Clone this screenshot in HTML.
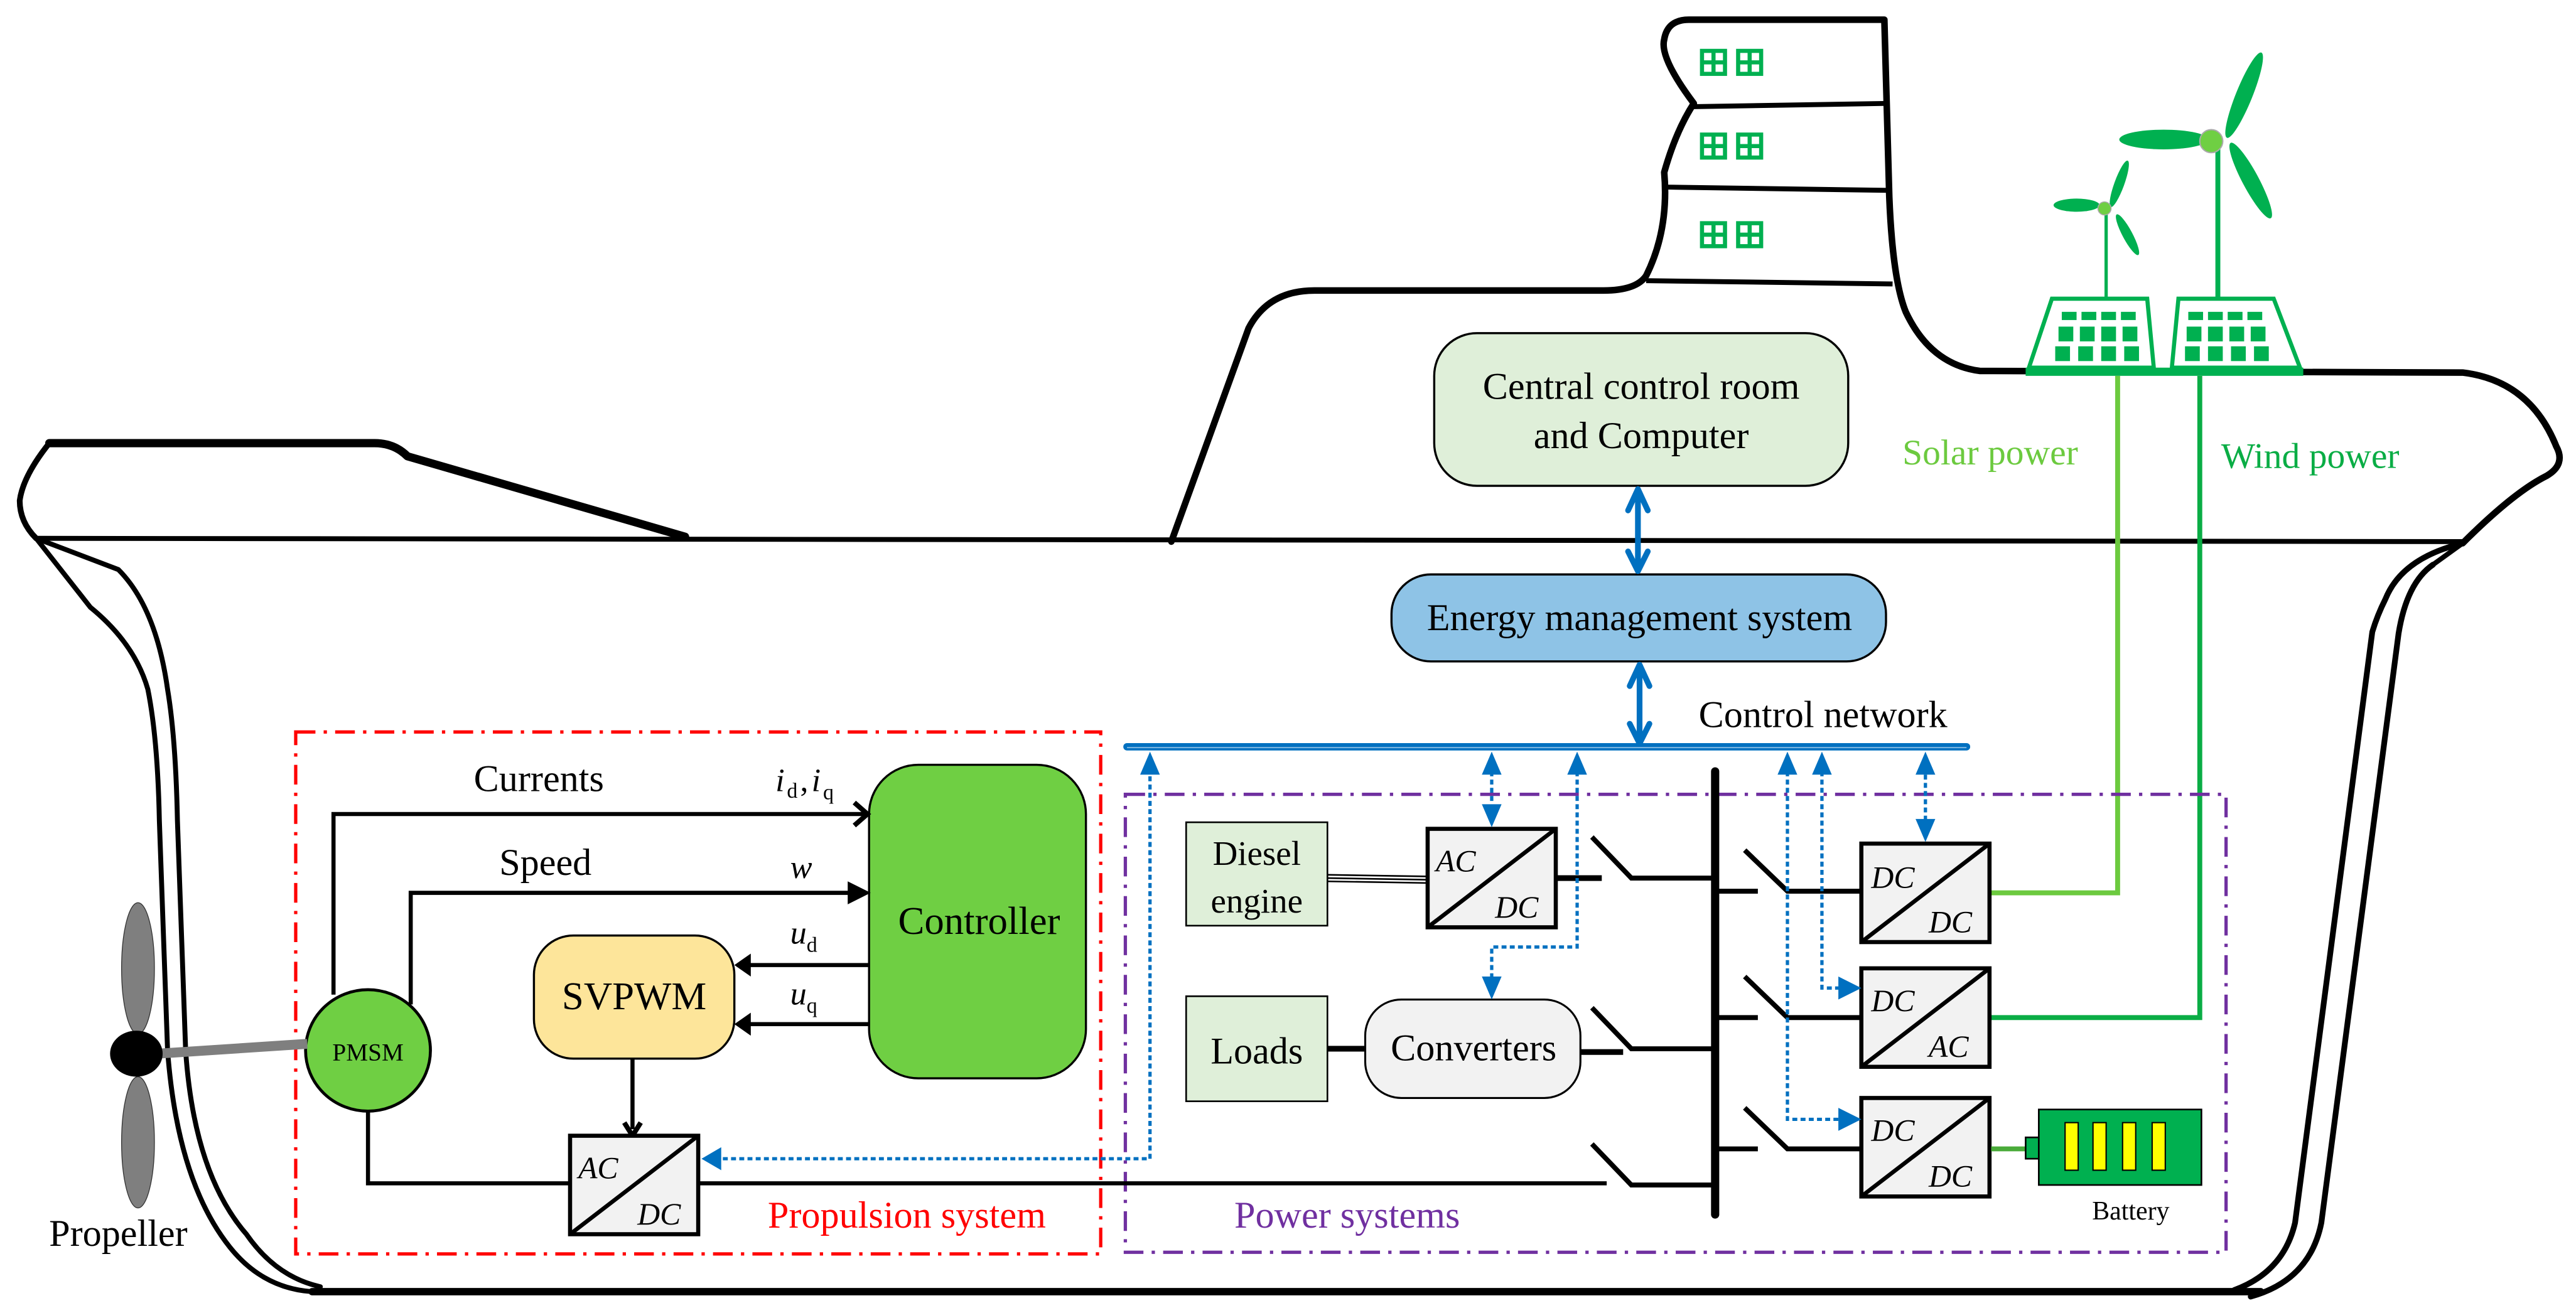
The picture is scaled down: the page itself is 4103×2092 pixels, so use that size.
<!DOCTYPE html>
<html><head><meta charset="utf-8">
<style>
html,body{margin:0;padding:0;background:#fff;}
svg{display:block;}
svg text{font-family:"Liberation Serif","DejaVu Serif",serif;}
</style></head>
<body>
<svg width="4103" height="2092" viewBox="0 0 1568 800" preserveAspectRatio="none" xmlns="http://www.w3.org/2000/svg" font-family="Liberation Serif, DejaVu Serif, serif">
<rect width="1568" height="800" fill="#fff"/>
<g fill="none" stroke="#000" stroke-linecap="round" stroke-linejoin="round">
 <path d="M30,270 L228,270 Q240,270 248,278 L417,327" stroke-width="5"/>
 <path d="M30,270 Q14,290 12,305 Q12,318 22,328" stroke-width="3.5"/>
 <path d="M22,328 L1499,330" stroke-width="3"/>
 <path d="M22,328 L55,370 Q82,392 90,420 Q96,450 97,500 L102,640 Q108,720 140,760 Q160,785 190,787" stroke-width="3"/>
 <path d="M22,328 L72,347 Q95,370 102,420 Q107,450 108,500 L113,640 Q118,715 150,752 Q168,778 195,784" stroke-width="3"/>
 <path d="M190,787 L1376,787" stroke-width="4.5"/>
 <path d="M713,330 L760,200 Q772,177 800,177 L976,177 Q996,177 1002,168 Q1016,140 1013,105 Q1020,80 1031,63 Q1010,35 1013,24 Q1015,12 1028,12 L1147,12 L1150,120 Q1152,170 1160,190 Q1175,222 1205,226 L1499,227 Q1540,232 1556,272 Q1562,283 1550,290 Q1530,300 1499,331" stroke-width="4"/>
 <path d="M1499,331 Q1462,340 1452,365 Q1447,375 1444,385 L1397,745 Q1390,775 1360,786" stroke-width="3.5"/>
 <path d="M1481,344 Q1465,355 1460,386 L1413,745 Q1406,780 1370,790" stroke-width="3.5"/>
 <path d="M1499,331 L1481,344" stroke-width="3"/>
</g>
<g fill="none" stroke="#000" stroke-width="3">
 <path d="M1031,65 L1149,63"/>
 <path d="M1015,114 L1150,116"/>
 <path d="M1002,171 L1152,173"/>
</g>
<g fill="#fff" stroke="#00b050" stroke-width="2.5">
 <g id="w"><rect x="1036" y="31" width="14" height="14"/><line x1="1043" y1="31" x2="1043" y2="45"/><line x1="1036" y1="38" x2="1050" y2="38"/></g>
 <use href="#w" x="22"/><use href="#w" y="51"/><use href="#w" x="22" y="51"/><use href="#w" y="105"/><use href="#w" x="22" y="105"/>
</g>
<g fill="#00b050">
 <line x1="1350" y1="90" x2="1350" y2="184" stroke="#00b050" stroke-width="3"/>
 <ellipse cx="1317" cy="85" rx="27" ry="6"/>
 <ellipse cx="1366" cy="58" rx="5" ry="28" transform="rotate(22 1366 58)"/>
 <ellipse cx="1370" cy="110" rx="5" ry="26" transform="rotate(-28 1370 110)"/>
 <circle cx="1346" cy="86" r="7" fill="#6fcf43" stroke="#aaa" stroke-width="0.8"/>
 <line x1="1282" y1="130" x2="1282" y2="184" stroke="#00b050" stroke-width="2"/>
 <ellipse cx="1264" cy="125" rx="14" ry="4"/>
 <ellipse cx="1290" cy="112" rx="3" ry="15" transform="rotate(20 1290 112)"/>
 <ellipse cx="1295" cy="143" rx="3" ry="14" transform="rotate(-28 1295 143)"/>
 <circle cx="1281" cy="127" r="4" fill="#6fcf43" stroke="#aaa" stroke-width="0.6"/>
</g>
<g stroke="#00b050" stroke-width="2.5" fill="#fff">
 <polygon points="1249,182 1307,182 1311,224 1235,224"/>
 <polygon points="1326,182 1384,182 1400,224 1322,224"/>
</g>
<g fill="#00b050">
 <rect x="1233" y="224" width="169" height="5"/>
 <rect x="1255" y="190" width="9" height="5"/><rect x="1267" y="190" width="9" height="5"/><rect x="1279" y="190" width="9" height="5"/><rect x="1291" y="190" width="9" height="5"/>
 <rect x="1253" y="199" width="9" height="9"/><rect x="1266" y="199" width="9" height="9"/><rect x="1279" y="199" width="9" height="9"/><rect x="1292" y="199" width="9" height="9"/>
 <rect x="1251" y="211" width="9" height="9"/><rect x="1265" y="211" width="9" height="9"/><rect x="1279" y="211" width="9" height="9"/><rect x="1293" y="211" width="9" height="9"/>
 <rect x="1332" y="190" width="9" height="5"/><rect x="1344" y="190" width="9" height="5"/><rect x="1356" y="190" width="9" height="5"/><rect x="1368" y="190" width="9" height="5"/>
 <rect x="1331" y="199" width="9" height="9"/><rect x="1344" y="199" width="9" height="9"/><rect x="1357" y="199" width="9" height="9"/><rect x="1370" y="199" width="9" height="9"/>
 <rect x="1330" y="211" width="9" height="9"/><rect x="1344" y="211" width="9" height="9"/><rect x="1358" y="211" width="9" height="9"/><rect x="1372" y="211" width="9" height="9"/>
</g>
<polyline points="1289,229 1289,544 1212,544" fill="none" stroke="#6cca3f" stroke-width="3"/>
<polyline points="1339,229 1339,620 1212,620" fill="none" stroke="#0aad45" stroke-width="3"/>
<text x="1158" y="283" font-size="22" fill="#6cca3f">Solar power</text>
<text x="1352" y="285" font-size="22" fill="#0aad45">Wind power</text>

<rect x="873" y="203" width="252" height="93" rx="26" fill="#dfefd9" stroke="#000" stroke-width="1.3"/>
<text x="999" y="243" font-size="23" text-anchor="middle">Central control room</text>
<text x="999" y="273" font-size="23" text-anchor="middle">and  Computer</text>
<rect x="847" y="350" width="301" height="53" rx="24" fill="#8ec3e6" stroke="#000" stroke-width="1.3"/>
<text x="998" y="384" font-size="23" text-anchor="middle">Energy management system</text>
<g stroke="#0070c0" fill="none" stroke-linecap="round" stroke-linejoin="round">
 <line x1="997" y1="300" x2="997" y2="346" stroke-width="3.5"/>
 <polyline points="991,311 997,298 1003,311" stroke-width="3.5"/>
 <polyline points="991,336 997,348 1003,336" stroke-width="3.5"/>
 <line x1="998" y1="407" x2="998" y2="451" stroke-width="3.5"/>
 <polyline points="992,418 998,405 1004,418" stroke-width="3.5"/>
 <polyline points="992,441 998,453 1004,441" stroke-width="3.5"/>
</g>
<line x1="686" y1="455" x2="1197" y2="455" stroke="#0070c0" stroke-width="4.5" stroke-linecap="round"/>
<line x1="686" y1="455.5" x2="1197" y2="455.5" stroke="#7fb6e0" stroke-width="0.8"/>
<text x="1034" y="443" font-size="23">Control network</text>

<rect x="180" y="446" width="490" height="318" fill="none" stroke="#ff0000" stroke-width="2" stroke-dasharray="12 5 2 5"/>
<rect x="685" y="484" width="670" height="279" fill="none" stroke="#7030a0" stroke-width="2" stroke-dasharray="12 5 2 5"/>
<text x="552" y="748" font-size="23" fill="#ff0000" text-anchor="middle">Propulsion system</text>
<text x="820" y="748" font-size="23" fill="#7030a0" text-anchor="middle">Power systems</text>

<rect x="529" y="466" width="132" height="191" rx="30" fill="#6fcf43" stroke="#000" stroke-width="1.3"/>
<text x="596" y="569" font-size="24" text-anchor="middle">Controller</text>
<rect x="325" y="570" width="122" height="75" rx="24" fill="#fde59a" stroke="#000" stroke-width="1.3"/>
<text x="386" y="615" font-size="24" text-anchor="middle">SVPWM</text>
<g stroke="#000" stroke-width="2.5" fill="none">
 <polyline points="203,606 203,496 526,496"/>
 <polyline points="250,612 250,544 520,544"/>
 <line x1="529" y1="588" x2="455" y2="588"/>
 <line x1="529" y1="624" x2="455" y2="624"/>
 <line x1="385" y1="645" x2="385" y2="688"/>
 <polyline points="224,676 224,721 347,721"/>
 <line x1="425" y1="721" x2="978" y2="721"/>
 <polyline points="520,489 528,496 520,503" stroke-width="3"/>
 <polyline points="380,684 385,692 390,684" stroke-width="3"/>
</g>
<g fill="#000">
 <polygon points="516,537 530,544 516,551"/>
 <polygon points="447,588 457,581 457,595"/>
 <polygon points="447,624 457,617 457,631"/>
</g>
<text x="472" y="482" font-size="20" font-style="italic">i</text><text x="479" y="486" font-size="13">d</text><text x="487" y="482" font-size="20">,</text><text x="494" y="482" font-size="20" font-style="italic">i</text><text x="501" y="487" font-size="13">q</text>
<text x="328" y="482" font-size="23" text-anchor="middle">Currents</text>
<text x="332" y="533" font-size="23" text-anchor="middle">Speed</text>
<text x="481" y="535" font-size="20" font-style="italic">w</text>
<text x="481" y="575" font-size="20" font-style="italic">u</text><text x="491" y="580" font-size="13">d</text>
<text x="481" y="612" font-size="20" font-style="italic">u</text><text x="491" y="617" font-size="13">q</text>
<ellipse cx="224" cy="640" rx="38" ry="37" fill="#6fcf43" stroke="#000" stroke-width="1.8"/>
<text x="224" y="646" font-size="15" text-anchor="middle">PMSM</text>
<line x1="96" y1="642" x2="187" y2="636" stroke="#7f7f7f" stroke-width="6"/>
<ellipse cx="84" cy="590" rx="10" ry="40" fill="#7f7f7f" stroke="#333" stroke-width="0.5"/>
<ellipse cx="84" cy="696" rx="10" ry="40" fill="#7f7f7f" stroke="#333" stroke-width="0.5"/>
<ellipse cx="83" cy="642" rx="16" ry="14" fill="#000"/>
<text x="72" y="759" font-size="23" text-anchor="middle">Propeller</text>

<defs>
 <g id="cv">
  <rect x="0" y="0" width="78" height="60" fill="#f2f2f2" stroke="#000" stroke-width="2.5"/>
  <line x1="0" y1="60" x2="78" y2="0" stroke="#000" stroke-width="2.5"/>
 </g>
</defs>
<use href="#cv" x="347" y="692"/>
<text x="352" y="718" font-size="19" font-style="italic">AC</text><text x="388" y="746" font-size="19" font-style="italic">DC</text>
<use href="#cv" x="869" y="505"/>
<text x="874" y="531" font-size="19" font-style="italic">AC</text><text x="910" y="559" font-size="19" font-style="italic">DC</text>
<use href="#cv" x="1133" y="514"/>
<text x="1139" y="541" font-size="19" font-style="italic">DC</text><text x="1174" y="568" font-size="19" font-style="italic">DC</text>
<use href="#cv" x="1133" y="590"/>
<text x="1139" y="616" font-size="19" font-style="italic">DC</text><text x="1174" y="644" font-size="19" font-style="italic">AC</text>
<use href="#cv" x="1133" y="669"/>
<text x="1139" y="695" font-size="19" font-style="italic">DC</text><text x="1174" y="723" font-size="19" font-style="italic">DC</text>

<rect x="722" y="501" width="86" height="63" fill="#dfefd9" stroke="#000" stroke-width="1"/>
<text x="765" y="527" font-size="21" text-anchor="middle">Diesel</text>
<text x="765" y="556" font-size="21" text-anchor="middle">engine</text>
<rect x="722" y="607" width="86" height="64" fill="#dfefd9" stroke="#000" stroke-width="1"/>
<text x="765" y="648" font-size="23" text-anchor="middle">Loads</text>
<rect x="831" y="609" width="131" height="60" rx="22" fill="#f2f2f2" stroke="#000" stroke-width="1.2"/>
<text x="897" y="646" font-size="23" text-anchor="middle">Converters</text>

<g stroke="#000" fill="none" stroke-width="3">
 <line x1="808" y1="533" x2="869" y2="534" stroke-width="1"/>
 <line x1="808" y1="535" x2="869" y2="536" stroke-width="1"/>
 <line x1="808" y1="537" x2="869" y2="538" stroke-width="1"/>
 <line x1="948" y1="535" x2="975" y2="535" stroke-width="3.5"/>
 <polyline points="969,510 993,535 1044,535"/>
 <line x1="808" y1="639" x2="831" y2="639" stroke-width="3.5"/>
 <line x1="962" y1="641" x2="988" y2="641" stroke-width="3.5"/>
 <polyline points="969,614 993,639 1044,639"/>
 <polyline points="969,697 993,722 1044,722"/>
 <line x1="1044" y1="470" x2="1044" y2="740" stroke-width="5" stroke-linecap="round"/>
 <line x1="1044" y1="543" x2="1070" y2="543"/>
 <polyline points="1062,518 1088,543 1133,543"/>
 <line x1="1044" y1="620" x2="1070" y2="620"/>
 <polyline points="1062,595 1088,620 1133,620"/>
 <line x1="1044" y1="700" x2="1070" y2="700"/>
 <polyline points="1062,675 1088,700 1133,700"/>
</g>
<line x1="1212" y1="700" x2="1234" y2="700" stroke="#4aab3a" stroke-width="3"/>
<rect x="1233" y="693" width="8" height="13" fill="#00b050" stroke="#000" stroke-width="1"/>
<rect x="1241" y="676" width="99" height="46" fill="#00b050" stroke="#000" stroke-width="1"/>
<g fill="#ffff00" stroke="#000" stroke-width="0.8">
 <rect x="1257" y="684" width="8" height="29"/><rect x="1274" y="684" width="8" height="29"/><rect x="1292" y="684" width="8" height="29"/><rect x="1310" y="684" width="8" height="29"/>
</g>
<text x="1297" y="743" font-size="16" text-anchor="middle">Battery</text>

<g stroke="#0070c0" stroke-width="2" fill="none" stroke-dasharray="3 2">
 <polyline points="440,706 700,706 700,470"/>
 <line x1="908" y1="470" x2="908" y2="490"/>
 <polyline points="960,470 960,577 908,577 908,596"/>
 <polyline points="1088,470 1088,682 1120,682"/>
 <polyline points="1109,470 1109,602 1120,602"/>
 <line x1="1172" y1="472" x2="1172" y2="500"/>
</g>
<g fill="#0070c0">
 <polygon points="427,706 439,699 439,713"/>
 <polygon points="700,458 694,472 706,472"/>
 <polygon points="908,458 902,472 914,472"/>
 <polygon points="908,504 902,490 914,490"/>
 <polygon points="960,458 954,472 966,472"/>
 <polygon points="908,609 902,595 914,595"/>
 <polygon points="1088,458 1082,472 1094,472"/>
 <polygon points="1109,458 1103,472 1115,472"/>
 <polygon points="1172,458 1166,472 1178,472"/>
 <polygon points="1172,513 1166,499 1178,499"/>
 <polygon points="1133,682 1119,675 1119,689"/>
 <polygon points="1133,602 1119,595 1119,609"/>
</g>
</svg>
</body></html>
